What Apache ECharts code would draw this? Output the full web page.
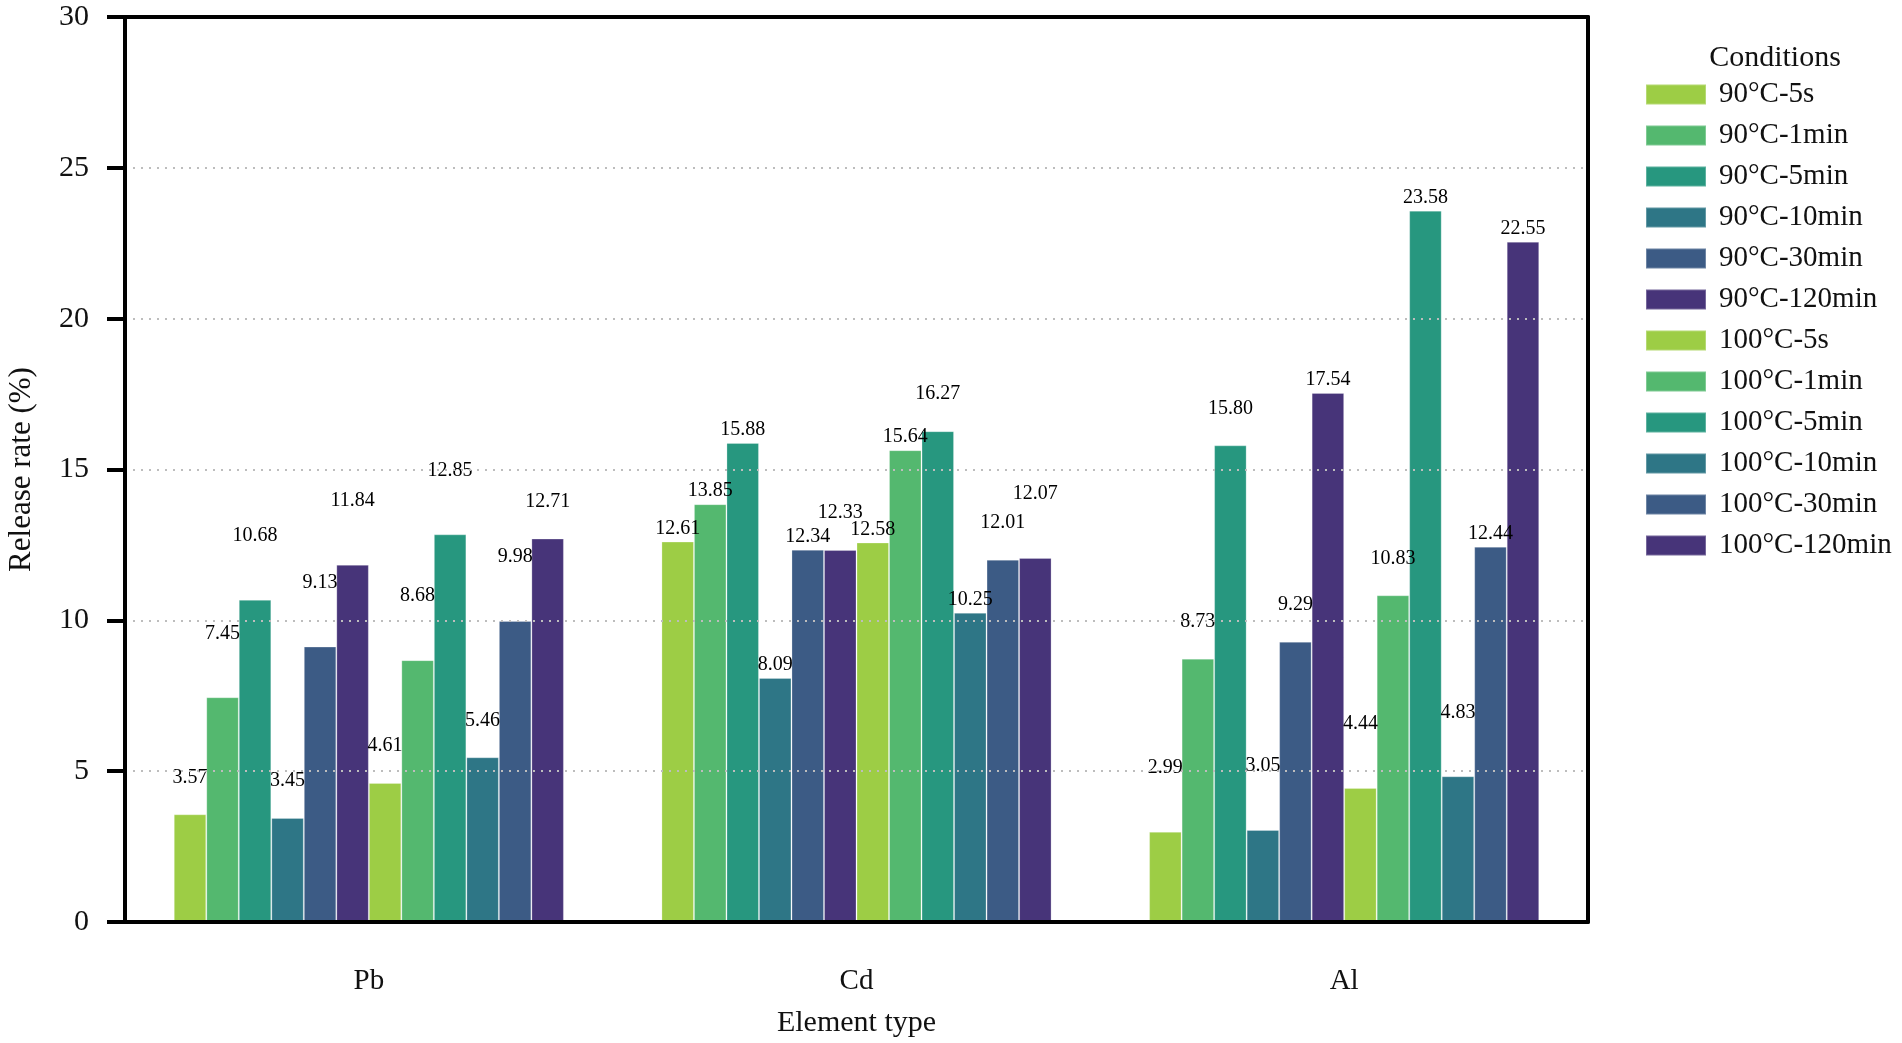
<!DOCTYPE html>
<html>
<head>
<meta charset="utf-8">
<script src="https://cdn.jsdelivr.net/npm/echarts@6/dist/echarts.min.js"></script>
<style>
  html, body { margin: 0; padding: 0; background: #ffffff; }
  #chart { width: 1902px; height: 1043px; }
</style>
</head>
<body>
<div id="chart"></div>
<script>
// ---------- DATA ----------
const categories = ['Pb', 'Cd', 'Al'];
const conditions = ['90°C-5s', '90°C-1min', '90°C-5min', '90°C-10min', '90°C-30min', '90°C-120min',
                    '100°C-5s', '100°C-1min', '100°C-5min', '100°C-10min', '100°C-30min', '100°C-120min'];
const pbValues = [3.57, 7.45, 10.68, 3.45, 9.13, 11.84, 4.61, 8.68, 12.85, 5.46, 9.98, 12.71];
const cdValues = [12.61, 13.85, 15.88, 8.09, 12.34, 12.33, 12.58, 15.64, 16.27, 10.25, 12.01, 12.07];
const alValues = [2.99, 8.73, 15.80, 3.05, 9.29, 17.54, 4.44, 10.83, 23.58, 4.83, 12.44, 22.55];
const yTicks = [0, 5, 10, 15, 20, 25, 30];

// ---------- STYLE / LAYOUT ----------
const palette = ['#9dcd45', '#54b86f', '#27977f', '#2e7686', '#3c5b85', '#473479',
                 '#9dcd45', '#54b86f', '#27977f', '#2e7686', '#3c5b85', '#473479'];
// label stacking tiers (avoid overlap, as in the original figure): per element, per condition
const labelTier = {
  Pb: [1, 2, 2, 1, 2, 2, 1, 2, 2, 1, 2, 1],
  Cd: [0, 0, 0, 0, 0, 1, 0, 0, 1, 0, 1, 2],
  Al: [2, 1, 1, 2, 1, 0, 2, 1, 0, 2, 0, 0]
};
const tierDistance = [3, 27, 54];
const FONT = '"Liberation Serif", "Times New Roman", serif';

const valuesByCat = [pbValues, cdValues, alValues];

const series = conditions.map((name, i) => ({
  name: name,
  type: 'bar',
  barGap: '0%',
  barCategoryGap: '20%',
  itemStyle: { color: palette[i], borderColor: 'rgba(255,255,255,0.25)', borderWidth: 1 },
  data: categories.map((cat, c) => ({
    value: valuesByCat[c][i],
    label: {
      show: true,
      position: 'top',
      distance: tierDistance[labelTier[cat][i]],
      formatter: (p) => p.value.toFixed(2),
      fontFamily: FONT,
      fontSize: 20,
      color: '#000'
    }
  }))
}));

const chart = echarts.init(document.getElementById('chart'), null, { renderer: 'canvas' });
chart.setOption({
  backgroundColor: '#ffffff',
  animation: false,
  color: palette,
  title: {
    text: 'Conditions',
    left: 1770,
    textAlign: 'center',
    top: 38,
    textStyle: { fontFamily: FONT, fontSize: 30, fontWeight: 'normal', color: '#111' }
  },
  legend: {
    orient: 'vertical',
    left: 1645,
    top: 80,
    padding: 0,
    itemWidth: 60,
    itemHeight: 20,
    itemGap: 12,
    icon: 'rect',
    data: conditions,
    textStyle: { fontFamily: FONT, fontSize: 29, color: '#111', padding: [0, 0, 0, 8] }
  },
  grid: {
    left: 125, right: 314, top: 17, bottom: 121,
    outerBoundsMode: 'none',
    containLabel: false
  },
  xAxis: [{
    type: 'category',
    data: categories,
    z: 4,
    name: 'Element type',
    nameLocation: 'middle',
    nameGap: 86,
    nameTextStyle: { fontFamily: FONT, fontSize: 30, color: '#111', verticalAlign: 'top' },
    axisLine: { lineStyle: { color: '#000', width: 4 } },
    axisTick: { alignWithLabel: true, length: 20, lineStyle: { color: '#000', width: 3 } },
    axisLabel: { fontFamily: FONT, fontSize: 29, color: '#111', margin: 45 },
    splitLine: { show: false }
  }, {
    type: 'category',
    data: categories,
    position: 'top',
    z: 4,
    axisLine: { show: true, onZero: false, lineStyle: { color: '#000', width: 4 } },
    axisTick: { show: false },
    axisLabel: { show: false },
    splitLine: { show: false }
  }],
  yAxis: [{
    type: 'value',
    min: yTicks[0],
    max: yTicks[yTicks.length - 1],
    interval: yTicks[1] - yTicks[0],
    z: 3,
    name: 'Release rate (%)',
    nameLocation: 'middle',
    nameGap: 88,
    nameRotate: 90,
    nameTextStyle: { fontFamily: FONT, fontSize: 31, color: '#111' },
    axisLine: { show: true, lineStyle: { color: '#000', width: 4 } },
    axisTick: { show: true, inside: false, length: 18, lineStyle: { color: '#000', width: 4 } },
    axisLabel: { fontFamily: FONT, fontSize: 30, color: '#111', margin: 36 },
    splitLine: { show: true, lineStyle: { color: '#bdbdbd', width: 2, type: [2, 6] } }
  }, {
    type: 'value',
    position: 'right',
    min: yTicks[0],
    max: yTicks[yTicks.length - 1],
    interval: yTicks[1] - yTicks[0],
    z: 4,
    axisLine: { show: true, onZero: false, lineStyle: { color: '#000', width: 4 } },
    axisTick: { show: false },
    axisLabel: { show: false },
    splitLine: { show: false }
  }],
  series: series
});
</script>
</body>
</html>
